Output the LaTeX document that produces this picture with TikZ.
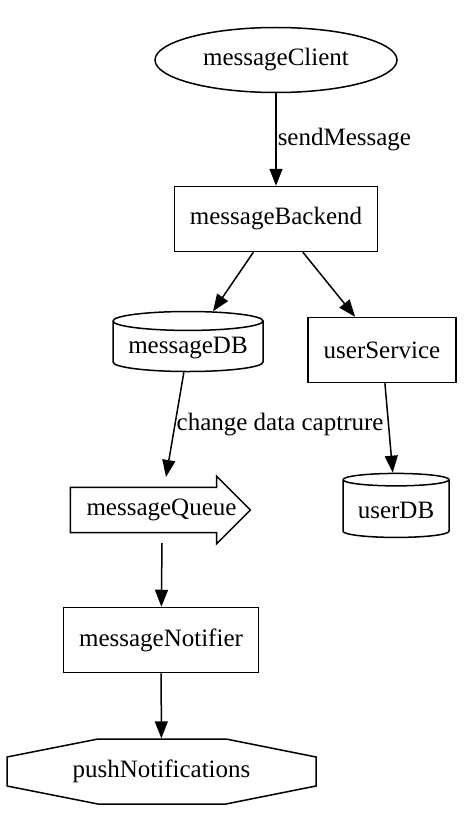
\documentclass[tikz,border=0pt]{standalone}
\usepackage{fontspec}
\setmainfont{Liberation Serif}
\usetikzlibrary{shapes.geometric,shapes.arrows,arrows.meta}

\tikzset{
	box/.style={draw, rectangle, line width=1.5pt, minimum height=65pt, inner xsep=15.5pt},
	store/.style={draw, cylinder, shape border rotate=90, aspect=0.15, line width=1.5pt},
	flow/.style={-{Triangle[length=17pt,width=13pt]}, line width=1.5pt},
	lbl/.style={right, inner sep=1pt},
}

\begin{document}
\begin{tikzpicture}[x=1pt, y=-1pt, font=\fontsize{25}{30}\selectfont]
	\useasboundingbox (0,0) rectangle (474,824);
	% Services and stores
	\node[draw, ellipse, line width=1.5pt, minimum width=242pt, minimum height=65pt] (client) at (276,60) {messageClient};
	\node[box] (backend) at (276,219) {messageBackend};
	\node[store, minimum width=150pt, minimum height=60pt] (msgdb) at (188,348) {messageDB};
	\node[box] (usersvc) at (382,350) {userService};
	\node[store, minimum width=106pt, minimum height=64pt] (userdb) at (396,510) {userDB};
	\node[draw, single arrow, line width=1.5pt, single arrow head extend=11pt, minimum height=180pt, inner xsep=8pt, inner ysep=11pt] (queue) at (149,510) {messageQueue\hspace*{-25pt}};
	\node[box] (notifier) at (161,640) {messageNotifier};
	\node[minimum width=309pt, minimum height=65pt] (push) at (161.5,771) {pushNotifications};
	% octagon around pushNotifications
	\draw[line width=1.5pt] (98,739) -- (226,739) -- (316,757) -- (316,786) -- (226,804) -- (98,804) -- (7,786) -- (7,757) -- cycle;
	
	% Queue ends
	\coordinate (qtop) at (166,477);
	\coordinate (qbot) at (162,543);
	
	% Edges
	\draw[flow] (client) -- node[lbl] {sendMessage} (backend);
	\draw[flow] (backend) -- (msgdb);
	\draw[flow] (backend) -- (usersvc);
	\draw[flow] (msgdb) -- node[lbl] {change data captrure} (qtop);
	\draw[flow] (usersvc) -- (userdb);
	\draw[flow] (qbot) -- (notifier);
	\draw[flow] (notifier) -- (push);
	
\end{tikzpicture}
\end{document}
